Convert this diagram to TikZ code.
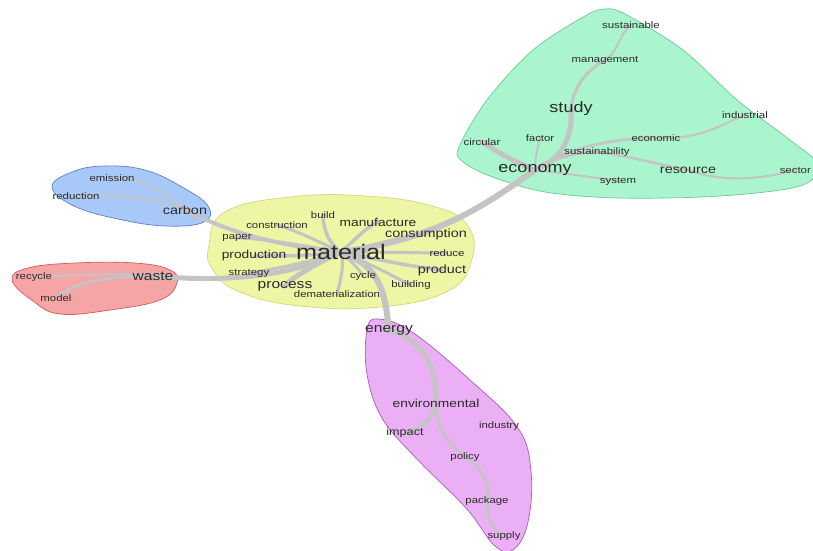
\documentclass[tikz,border=0pt]{standalone}
\usepackage{fontspec}
\setmainfont[FakeStretch=1.2]{Liberation Sans}
\pgfdeclarelayer{blobs}
\pgfdeclarelayer{edges}
\pgfsetlayers{blobs,edges,main}
\definecolor{ylwfill}{HTML}{EEF5A5}
\definecolor{ylwline}{HTML}{D2D87A}
\definecolor{grnfill}{HTML}{AAF5CD}
\definecolor{grnline}{HTML}{6EC896}
\definecolor{blufill}{HTML}{A8C8F8}
\definecolor{bluline}{HTML}{5A82D2}
\definecolor{redfill}{HTML}{F5A5A5}
\definecolor{redline}{HTML}{D25A5A}
\definecolor{magfill}{HTML}{EBAFF5}
\definecolor{magline}{HTML}{AA5AB4}
\definecolor{linkgrey}{HTML}{C4C4C4}
\definecolor{wordcol}{HTML}{2A2A2A}
\tikzset{
  word/.style={inner sep=0pt, text=wordcol, font=\fontsize{9.5}{10}\selectfont},
  wmid/.style={word, font=\fontsize{11.5}{12}\selectfont},
  wbig/.style={word, font=\fontsize{13}{14}\selectfont},
  wlarge/.style={word, font=\fontsize{15}{16}\selectfont},
  whuge/.style={word, font=\fontsize{21}{22}\selectfont},
  link/.style={draw=linkgrey, line cap=round, line width=#1},
  link/.default=2pt,
  blob/.style={line width=0.7pt}
}
\begin{document}
\begin{tikzpicture}[x=1pt,y=-1pt]
\useasboundingbox (0,0) rectangle (813,550);
\clip (0,0) rectangle (813,550);

% ---------- words ----------
% material cluster
\node[whuge] (material) at (341,252) {material};
\node[word] (build) at (323,215) {build};
\node[word] (construction) at (277,225) {construction};
\node[wmid] (manufacture) at (378,222) {manufacture};
\node[wbig, font=\fontsize{12}{13}\selectfont] (consumption) at (426,234) {consumption};
\node[word] (paper) at (237,238) {paper};
\node[wmid] (production) at (254,256) {production};
\node[word] (reduce) at (447,253) {reduce};
\node[word] (strategy) at (249,273) {strategy};
\node[word] (cycle) at (363,276) {cycle};
\node[wbig, font=\fontsize{12}{13}\selectfont] (product) at (442,270) {product};
\node[wbig] (process) at (285,286) {process};
\node[word] (building) at (411,285) {building};
\node[word] (dematerialization) at (337,294) {dematerialization};

% economy cluster
\node[word] (sustainable) at (631,25) {sustainable};
\node[word] (management) at (605,60) {management};
\node[wlarge] (study) at (571,109) {study};
\node[word] (industrial) at (745,115) {industrial};
\node[word] (circular) at (482,142) {circular};
\node[word] (factor) at (540,138) {factor};
\node[word] (economic) at (656,138) {economic};
\node[word] (sustainability) at (597,152) {sustainability};
\node[wlarge] (economy) at (535,170) {economy};
\node[wbig, font=\fontsize{12}{13}\selectfont] (resource) at (688,170) {resource};
\node[word, anchor=east] (sector) at (811,170) {sector};
\node[word] (system) at (618,181) {system};

% carbon cluster
\node[word] (emission) at (112,178) {emission};
\node[word] (reduction) at (76,196) {reduction};
\node[wbig, font=\fontsize{12}{13}\selectfont] (carbon) at (185,210) {carbon};

% waste cluster
\node[word] (recycle) at (34,277) {recycle};
\node[wbig] (waste) at (153,276) {waste};
\node[word] (model) at (56,298) {model};

% energy cluster
\node[wbig] (energy) at (389,330) {energy};
\node[wmid] (environmental) at (436,403) {environmental};
\node[word] (industry) at (499,426) {industry};
\node[wmid, font=\fontsize{10.5}{11}\selectfont] (impact) at (405,433) {impact};
\node[word] (policy) at (465,457) {policy};
\node[word] (package) at (487,501) {package};
\node[word] (supply) at (504,536) {supply};

% ---------- cluster outlines ----------
\begin{pgfonlayer}{blobs}
\draw[blob, fill=ylwfill, draw=ylwline] plot[smooth cycle, tension=0.75] coordinates
  {(209,245) (225,212) (290,197) (365,196) (432,206) (468,226) (471,262) (446,292) (380,307) (300,306) (240,292) (213,270)};
\draw[blob, fill=grnfill, draw=grnline] plot[smooth cycle, tension=0.55] coordinates
  {(459,147) (487,100) (533,50) (585,16) (605,9) (625,14) (683,50) (737,100) (790,140) (818,165) (800,186) (720,196) (620,198) (545,192) (490,176) (462,161)};
\draw[blob, fill=blufill, draw=bluline] plot[smooth cycle, tension=0.7] coordinates
  {(52,187) (72,172) (104,166) (145,170) (182,187) (208,206) (204,222) (166,226) (118,219) (74,206)};
\draw[blob, fill=redfill, draw=redline] plot[smooth cycle, tension=0.7] coordinates
  {(12,280) (28,268) (75,263) (135,263) (170,270) (177,283) (160,300) (110,310) (60,314) (33,301)};
\draw[blob, fill=magfill, draw=magline] plot[smooth cycle, tension=0.65] coordinates
  {(367,330) (378,319) (412,332) (470,380) (518,428) (531,472) (528,522) (514,549) (495,546) (466,508) (416,458) (382,418) (367,374)};
\end{pgfonlayer}

% ---------- links ----------
\begin{pgfonlayer}{edges}
% between clusters
\draw[link=6pt] (material.center) .. controls (440,238) and (485,205) .. (economy.center);
\draw[link=4pt] (material.center) .. controls (270,245) and (225,230) .. (carbon.center);
\draw[link=5pt] (material.center) .. controls (300,272) and (240,284) .. (waste.center);
\draw[link=6pt] (material.center) .. controls (385,268) and (385,300) .. (energy.center);

% inside the material cluster
\draw[link=3.5pt] (material.center) .. controls (330,245) and (323,230) .. (build.center);
\draw[link=3pt] (material.center) .. controls (315,240) and (295,230) .. (construction.center);
\draw[link=3.5pt] (material.center) .. controls (355,240) and (365,228) .. (manufacture.center);
\draw[link=3.5pt] (material.center) .. controls (380,245) and (400,236) .. (consumption.center);
\draw[link=3pt] (material.center) .. controls (300,245) and (260,238) .. (paper.center);
\draw[link=3.5pt] (material.center) .. controls (310,256) and (280,256) .. (production.center);
\draw[link=3pt] (material.center) .. controls (390,252) and (425,253) .. (reduce.center);
\draw[link=3pt] (material.center) .. controls (310,262) and (270,270) .. (strategy.center);
\draw[link=3pt] (material.center) .. controls (352,262) and (360,270) .. (cycle.center);
\draw[link=3.5pt] (material.center) .. controls (390,262) and (420,268) .. (product.center);
\draw[link=5pt] (material.center) .. controls (320,262) and (295,275) .. (process.center);
\draw[link=3pt] (material.center) .. controls (375,265) and (395,278) .. (building.center);
\draw[link=3pt] (material.center) .. controls (345,265) and (340,282) .. (dematerialization.center);

% economy cluster
\draw[link=5pt] (economy.center) .. controls (510,160) and (495,150) .. (circular.center);
\draw[link=5pt] (economy.center) .. controls (560,160) and (573,140) .. (study.center);
\draw[link=3pt] (study.center) .. controls (573,85) and (590,68) .. (management.center);
\draw[link=2pt] (management.center) .. controls (620,50) and (618,35) .. (sustainable.center);
\draw[link=2pt] (economy.center) .. controls (535,155) and (538,148) .. (factor.center);
\draw[link=3pt] (economy.center) .. controls (555,158) and (575,152) .. (sustainability.center);
\draw[link=2.5pt] (economy.center) .. controls (560,150) and (610,138) .. (economic.center);
\draw[link=2pt] (economic.center) .. controls (700,140) and (720,125) .. (industrial.center);
\draw[link=2.5pt] (sustainability.center) .. controls (630,156) and (660,165) .. (resource.center);
\draw[link=2pt] (resource.center) .. controls (720,182) and (760,180) .. (sector.center);
\draw[link=2pt] (economy.center) .. controls (575,175) and (600,178) .. (system.center);

% carbon cluster
\draw[link=2pt] (carbon.center) .. controls (165,190) and (140,178) .. (emission.center);
\draw[link=2pt] (carbon.center) .. controls (150,196) and (110,194) .. (reduction.center);

% waste cluster
\draw[link=2pt] (waste.center) .. controls (110,272) and (60,276) .. (recycle.center);
\draw[link=3pt] (waste.center) .. controls (100,276) and (70,285) .. (model.center);

% energy cluster
\draw[link=5pt] (energy.center) .. controls (420,340) and (436,360) .. (environmental.center);
\draw[link=4pt] (environmental.center) .. controls (433,420) and (420,430) .. (impact.center);
\draw[link=3pt] (environmental.center) .. controls (436,430) and (450,445) .. (policy.center);
\draw[link=3pt] (policy.center) .. controls (485,470) and (490,485) .. (package.center);
\draw[link=3pt] (package.center) .. controls (488,515) and (490,530) .. (supply.center);
\end{pgfonlayer}
\end{tikzpicture}
\end{document}
